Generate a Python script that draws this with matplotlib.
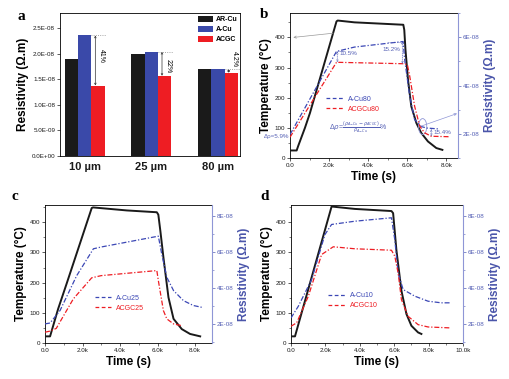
import matplotlib
matplotlib.use('Agg')
import matplotlib.pyplot as plt
from matplotlib.patches import Ellipse
from matplotlib.ticker import FuncFormatter, MultipleLocator, FixedLocator
import numpy as np

plt.rcParams['font.family'] = ['Liberation Sans', 'DejaVu Sans']

# ---- panel a: resistivity bars
cats = ['10 µm', '25 µm', '80 µm']
ar_cu = [1.90e-8, 1.99e-8, 1.70e-8]
a_cu = [2.36e-8, 2.04e-8, 1.70e-8]
acgc = [1.38e-8, 1.57e-8, 1.63e-8]
pct = ['41%', '22%', '4.2%']
pct_y = [1.96e-8, 1.76e-8, 1.89e-8]

# ---- panel b: 80 um
b_t_T = [0, 340, 420, 765, 1020, 2380, 2440, 3300, 5800, 5850, 5910, 6040, 6210, 6470, 6720, 7060, 7490, 7800]
b_T = [25, 25, 40, 100, 149, 453, 456, 450, 442, 425, 360, 260, 171, 116, 83, 55, 33, 27]
b_t_A = [0, 2380, 3300, 5790, 5870, 6130, 6380, 6720, 7000, 7660]
b_A = [1.97e-8, 5.41e-8, 5.59e-8, 5.82e-8, 5.07e-8, 3.55e-8, 2.59e-8, 2.3e-8, 2.24e-8, 2.2e-8]
b_t_G = [0, 2380, 5870, 6010, 6130, 6380, 6640, 6890, 7230, 8170]
b_G = [1.86e-8, 4.96e-8, 4.9e-8, 4.86e-8, 4.38e-8, 3.14e-8, 2.32e-8, 2.04e-8, 1.9e-8, 1.88e-8]

# ---- panel c: 25 um
c_t_T = [0, 270, 700, 1150, 2490, 2560, 4360, 5960, 6040, 6150, 6310, 6580, 6850, 7290, 7730, 8270]
c_T = [22, 22, 113, 196, 447, 449, 439, 433, 425, 370, 284, 151, 80, 46, 30, 22]
c_t_A = [0, 270, 800, 1690, 2580, 3000, 6040, 6220, 6490, 6850, 7380, 7910, 8360]
c_A = [2.0e-8, 2.05e-8, 2.74e-8, 4.68e-8, 6.17e-8, 6.27e-8, 6.87e-8, 5.89e-8, 4.59e-8, 3.85e-8, 3.29e-8, 3.02e-8, 2.92e-8]
c_t_G = [0, 270, 600, 1510, 2490, 3000, 5960, 6040, 6130, 6310, 6490, 6850, 7290]
c_G = [1.54e-8, 1.6e-8, 1.75e-8, 3.39e-8, 4.56e-8, 4.68e-8, 4.96e-8, 4.41e-8, 3.85e-8, 2.74e-8, 2.28e-8, 2.0e-8, 1.9e-8]

# ---- panel d: 10 um
d_t_T = [0, 232, 2360, 3713, 5840, 5937, 6131, 6421, 6711, 7001, 7388, 7581]
d_T = [22, 22, 452, 444, 437, 430, 306, 173, 96, 57, 35, 30]
d_t_A = [0, 425, 1199, 1973, 2360, 3713, 5840, 6034, 6228, 6518, 7195, 7968, 8741, 9225]
d_A = [2.33e-8, 2.98e-8, 4.46e-8, 6.96e-8, 7.52e-8, 7.7e-8, 7.89e-8, 6.68e-8, 4.83e-8, 3.91e-8, 3.54e-8, 3.26e-8, 3.17e-8, 3.17e-8]
d_t_G = [0, 329, 1006, 1779, 2456, 3713, 5840, 6034, 6228, 6421, 6808, 7388, 7968, 9225]
d_G = [1.87e-8, 2.06e-8, 3.53e-8, 5.85e-8, 6.28e-8, 6.17e-8, 6.09e-8, 5.76e-8, 4.83e-8, 3.35e-8, 2.42e-8, 1.96e-8, 1.83e-8, 1.78e-8]

BLK = '#1a1a1a'
BLU = '#3b47b5'
RED = '#ee1d23'
AXB = '#5560b5'
SPB = '#8f96d6'
TS = 4.5
LS = 8.5

fig = plt.figure(figsize=(5.1, 3.79), dpi=100)


def tick_style(ax, color=BLK):
    ax.tick_params(direction='out', length=2, width=0.5, labelsize=TS, pad=1.5, colors=color)
    ax.tick_params(which='minor', direction='out', length=1.2, width=0.4, colors=color)


# panel a
ax = fig.add_axes([60 / 510, 1 - 156 / 379, 180 / 510, 143 / 379])
x = np.arange(len(cats))
w = 0.2
ax.bar(x - w, ar_cu, w, color=BLK, label='AR-Cu')
ax.bar(x, a_cu, w, color='#3a49a9', label='A-Cu')
ax.bar(x + w, acgc, w, color=RED, label='ACGC')
for i in range(len(cats)):
    ax.plot([i + w / 2, i + 0.32], [a_cu[i], a_cu[i]], ls=':', lw=0.6, color='#888888')
    ax.annotate('', xy=(i + 0.16, acgc[i]), xytext=(i + 0.16, a_cu[i]),
                arrowprops=dict(arrowstyle='<->', lw=0.5, color='#333333',
                                shrinkA=0, shrinkB=0, mutation_scale=3))
    ax.text(i + 0.245, pct_y[i], pct[i], rotation=-90, fontsize=5, ha='center', va='center')
ax.set_xlim(-0.37, 2.33)
ax.set_ylim(0, 2.8e-8)
ax.set_xticks(x)
ax.set_xticklabels(cats, fontsize=8, fontweight='bold')
ax.set_yticks(np.arange(0, 2.6e-8, 0.5e-8))
ax.yaxis.set_major_formatter(FuncFormatter(lambda v, p: '%.1E' % v))
tick_style(ax)
ax.tick_params(axis='x', length=0, labelsize=8, pad=4)
ax.set_ylabel('Resistivity (Ω.m)', fontsize=LS, fontweight='bold', labelpad=2)
for s in ax.spines.values():
    s.set_linewidth(0.6)
ax.legend(loc='upper right', bbox_to_anchor=(0.995, 0.99), fontsize=5, frameon=False,
          handlelength=2.2, handleheight=1.0, labelspacing=0.35, borderaxespad=0,
          borderpad=0.2, handletextpad=0.4, prop={'weight': 'bold', 'size': 5})


def kfmt(v, p):
    return '0.0' if v == 0 else '%.1fk' % (v / 1000)


def twin_panel(pos, xmax, ymaxT, rlim, rticks, tT, T, tA, A, tG, G, labA, labG, leg_anchor, xmajor):
    ax = fig.add_axes(pos)
    ax2 = ax.twinx()
    ax.plot(tT, T, color=BLK, lw=1.4, zorder=3)
    lA, = ax2.plot(tA, A, color=BLU, lw=0.9, ls=(0, (4, 1.5, 1, 1.5)), label=labA)
    lG, = ax2.plot(tG, G, color=RED, lw=0.9, ls=(0, (4, 1.5, 1, 1.5)), label=labG)
    ax.set_xlim(0, xmax)
    ax.set_ylim(0, ymaxT)
    ax2.set_ylim(*rlim)
    ax.xaxis.set_major_locator(MultipleLocator(xmajor))
    ax.xaxis.set_minor_locator(MultipleLocator(xmajor / 2))
    ax.xaxis.set_major_formatter(FuncFormatter(kfmt))
    ax.yaxis.set_major_locator(MultipleLocator(100))
    ax.yaxis.set_minor_locator(MultipleLocator(50))
    ax2.yaxis.set_major_locator(FixedLocator(rticks))
    ax2.yaxis.set_minor_locator(MultipleLocator(1e-8))
    ax2.yaxis.set_major_formatter(FuncFormatter(lambda v, p: '%.0E' % v))
    tick_style(ax)
    tick_style(ax2, AXB)
    ax.spines['right'].set_visible(False)
    for s in ['left', 'top', 'bottom']:
        ax2.spines[s].set_visible(False)
        ax.spines[s].set_linewidth(0.6)
    ax2.spines['right'].set_color(SPB)
    ax2.spines['right'].set_linewidth(0.8)
    ax.set_xlabel('Time (s)', fontsize=LS, fontweight='bold', labelpad=2)
    ax.set_ylabel('Temperature (°C)', fontsize=LS, fontweight='bold', labelpad=2)
    ax2.set_ylabel('Resistivity (Ω.m)', fontsize=LS, fontweight='bold', color='#4a55aa', labelpad=3)
    leg = ax2.legend(handles=[lA, lG], loc='upper left', bbox_to_anchor=leg_anchor, frameon=False,
                     handlelength=2.4, labelspacing=0.45, borderaxespad=0, handletextpad=0.7,
                     labelcolor='linecolor', prop={'size': 5})
    for h in leg.get_lines():
        h.set_linestyle((0, (3, 2)))
    return ax, ax2


# panel b
axb, axb2 = twin_panel([290 / 510, 1 - 158 / 379, 168 / 510, 145 / 379], 8600, 481,
                       (1.0e-8, 7.0e-8), [2e-8, 4e-8, 6e-8],
                       b_t_T, b_T, b_t_A, b_A, b_t_G, b_G, 'A-Cu80', 'ACGCu80', (0.2, 0.45), 2000)
arr = dict(arrowstyle='<->', lw=0.5, color=AXB, ls=':', shrinkA=0, shrinkB=0, mutation_scale=3)
axb2.annotate('', xy=(2420, b_G[1]), xytext=(2420, b_A[1]), arrowprops=arr)
axb2.annotate('', xy=(5750, b_G[2]), xytext=(5750, b_A[3]), arrowprops=arr)
axb2.annotate('', xy=(7230, b_G[8]), xytext=(7230, b_A[-1]), arrowprops=arr)
axb2.plot([2420, 2700], [b_A[1], b_A[1]], ls=':', lw=0.6, color=AXB)
axb2.plot([5000, 5750], [b_A[3], b_A[3]], ls=':', lw=0.6, color=AXB)
axb2.text(2520, 5.34e-8, '10.5%', fontsize=4.5, color=AXB, va='center')
axb2.text(4750, 5.48e-8, '15.2%', fontsize=4.5, color=AXB, va='center')
axb2.text(7350, 2.07e-8, '15.4%', fontsize=4.5, color=AXB, va='center')
axb2.text(-40, 1.9e-8, 'Δρ=5.9%', fontsize=4.5, color=AXB, va='center', ha='right', clip_on=False)
axb2.add_patch(Ellipse((6790, 2.3e-8), 420, 0.66e-8, fill=False, ec=SPB, lw=0.6))
axb2.annotate('', xy=(8550, 2.84e-8), xytext=(6720, 2.32e-8),
              arrowprops=dict(arrowstyle='->', lw=0.5, color=SPB, mutation_scale=4, shrinkA=0, shrinkB=0),
              annotation_clip=False)
axb.annotate('', xy=(170, 400), xytext=(2213, 414),
             arrowprops=dict(arrowstyle='->', lw=0.5, color='#999999', mutation_scale=4, shrinkA=0, shrinkB=0))
axb.text(3490, 99, r'$\Delta\rho$=$\frac{(\rho_{A\mathrm{-}Cu}-\rho_{ACGC})}{\rho_{A\mathrm{-}Cu}}$%',
         fontsize=5, color=AXB, ha='center', va='center')

# panel c
twin_panel([45 / 510, 1 - 343 / 379, 167 / 510, 138 / 379], 8900, 457,
           (0.94e-8, 8.6e-8), [2e-8, 4e-8, 6e-8, 8e-8],
           c_t_T, c_T, c_t_A, c_A, c_t_G, c_G, 'A-Cu25', 'ACGC25', (0.28, 0.37), 2000)

# panel d
twin_panel([291 / 510, 1 - 343 / 379, 172 / 510, 138 / 379], 10000, 457,
           (0.94e-8, 8.6e-8), [2e-8, 4e-8, 6e-8, 8e-8],
           d_t_T, d_T, d_t_A, d_A, d_t_G, d_G, 'A-Cu10', 'ACGC10', (0.2, 0.39), 2000)

for lab, px, py in [('a', 21, 16), ('b', 264, 15), ('c', 15, 196), ('d', 265, 196)]:
    fig.text(px / 510, 1 - py / 379, lab, fontsize=11, fontweight='bold', family='Liberation Serif',
             ha='center', va='center')

fig.savefig('out.png', dpi=100)
